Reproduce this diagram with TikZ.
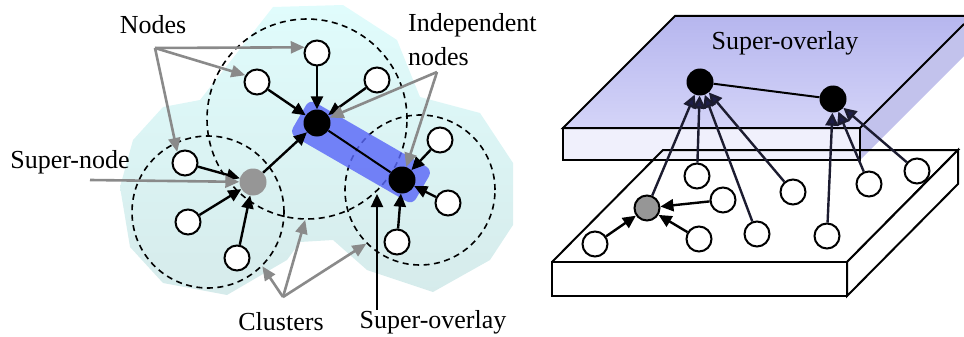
\documentclass[tikz,border=0pt]{standalone}
\usepackage{fontspec}
\setmainfont{Liberation Serif}
\usetikzlibrary{arrows.meta,positioning,calc,shapes.geometric}
\definecolor{CloudTop}{HTML}{E0FCFC}
\definecolor{CloudBot}{HTML}{D6EBEB}
\definecolor{BarBlue}{HTML}{5A68F8}
\definecolor{NoteGray}{HTML}{8A8A8A}
\definecolor{SuperGray}{HTML}{969696}
\definecolor{SlabTop}{HTML}{B6B6EE}
\definecolor{SlabTopLow}{HTML}{D4D4F8}
\definecolor{SlabFront}{HTML}{F0F0FC}
\definecolor{SlabSide}{HTML}{C2C2EC}
\definecolor{LinkNavy}{HTML}{1E1E48}
\definecolor{LinkDark}{HTML}{1C1C30}

\begin{document}
\begin{tikzpicture}[x=1pt, y=-1pt,
  peer/.style={circle, draw, line width=2pt, fill=white, minimum size=25pt, inner sep=0pt},
  super/.style={circle, fill=black, minimum size=27pt, inner sep=0pt},
  snode/.style={circle, fill=SuperGray, minimum size=27pt, inner sep=0pt},
  cluster/.style={circle, draw, line width=1.6pt, dash pattern=on 6pt off 4.5pt, inner sep=0pt},
  arr/.style={-{Triangle[length=13pt,width=12pt]}, line width=2.4pt},
  note/.style={-{Triangle[length=14pt,width=12pt]}, line width=2.6pt, color=NoteGray},
  uplink/.style={-{Triangle[length=13pt,width=13pt,fill=LinkNavy]}, line width=2.4pt, draw=LinkDark},
  lbl/.style={font=\fontsize{26}{28}\selectfont, inner sep=0pt}
]
\useasboundingbox (0,0) rectangle (964,337);

% cloud behind the clusters
\shade[top color=CloudTop, bottom color=CloudBot]
  (273,7) -- (343,5) -- (397,40) -- (420,97) -- (480,113) -- (513,163)
  -- (513,225) -- (490,260) -- (433,292) -- (367,270) -- (333,240)
  -- (300,242) -- (287,260) -- (227,295) -- (163,283) -- (130,247)
  -- (120,187) -- (133,140) -- (163,107) -- (200,100) -- cycle;

% clusters
\node[cluster, minimum size=200pt] (cT) at (307,119) {};
\node[cluster, minimum size=152pt] (cL) at (208,212) {};
\node[cluster, minimum size=150pt] (cR) at (420,190) {};

% super-overlay bar
\node[fill=BarBlue, fill opacity=0.82, rounded corners=7pt, minimum width=142pt,
      minimum height=40pt, rotate=-30, inner sep=0pt] (bar) at (361,152) {};

% left: nodes
\node[super] (sA) at (317,123) {};
\node[super] (sB) at (402,180) {};
\node[snode] (sn) at (253,182) {};
\node[peer] (p1) at (317,53) {};
\node[peer] (p2) at (257,82) {};
\node[peer] (p3) at (377,80) {};
\node[peer] (p4) at (185,163) {};
\node[peer] (p5) at (188,222) {};
\node[peer] (p6) at (237,258) {};
\node[peer] (p7) at (440,140) {};
\node[peer] (p8) at (448,203) {};
\node[peer] (p9) at (397,242) {};

\draw[arr] (p1) -- (sA);
\draw[arr] (p2) -- (sA);
\draw[arr] (p3) -- (sA);
\draw[arr] (sn) -- (sA);
\draw[arr] (p4) -- (sn);
\draw[arr] (p5) -- (sn);
\draw[arr] (p6) -- (sn);
\draw[arr] (p7) -- (sB);
\draw[arr] (p8) -- (sB);
\draw[arr] (p9) -- (sB);
\draw[line width=2pt] (sA) -- (sB);

% left: labels
\node[lbl] (nodeslbl) at (153,25) {Nodes};
\coordinate (nfork) at (155,48);
\draw[note] (nfork) -- (p1.155);
\draw[note] (nfork) -- (p2.150);
\draw[note] (nfork) -- (p4.125);

\node[lbl] (snlbl) at (70,162) {Super-node};
\coordinate (snfrom) at (90,180);
\draw[note] (snfrom) -- (sn);

\node[lbl, anchor=west, align=left, font=\fontsize{26}{34}\selectfont] (indlbl) at (408,40)
  {Independent\\nodes};
\coordinate (infork) at (437,72);
\draw[note] (infork) -- (sA);
\draw[note] (infork) -- (sB);

\node[lbl] (cllbl) at (281,322) {Clusters};
\coordinate (clfork) at (283,297);
\draw[note] (clfork) -- (cL.-45);
\draw[note] (clfork) -- (cT.-91);
\draw[note] (clfork) -- (cR.-135);

\node[lbl] (solbl) at (433,322) {Super-overlay};
\coordinate (sotip) at (377,194);
\draw[arr] (sotip |- solbl.north) -- (sotip);

% right: upper slab
\shade[top color=SlabTop, bottom color=SlabTopLow]
  (563,128) -- (675,16) -- (964,16) -- (964,24) -- (860,128) -- cycle;
\fill[SlabSide] (860,128) -- (964,24) -- (964,56) -- (860,160) -- cycle;
\draw[line width=2pt, fill=SlabFront] (563,128) rectangle (860,160);
\draw[line width=2pt] (860,128) -- (563,128) -- (675,16) -- (964,16);
\draw[line width=2pt] (860,128) -- (964,24);

% right: lower slab
\draw[line width=2pt] (552,262) -- (663,150) -- (958,150) -- (847,262);
\draw[line width=2pt, fill=white] (552,262) rectangle (847,296);
\draw[line width=2pt, fill=white] (847,262) -- (958,150) -- (958,184) -- (847,296) -- cycle;

\node[lbl] (ovtitle) at (785,43) {Super-overlay};

% right: nodes
\node[super] (rA) at (700,82) {};
\node[super] (rB) at (833,99) {};
\node[peer, fill=SuperGray] (rg) at (647,208) {};
\node[peer] (q1) at (697,176) {};
\node[peer] (q2) at (723,200) {};
\node[peer] (q3) at (595,244) {};
\node[peer] (q4) at (699,239) {};
\node[peer] (q5) at (757,234) {};
\node[peer] (q6) at (793,192) {};
\node[peer] (q7) at (827,236) {};
\node[peer] (q8) at (869,184) {};
\node[peer] (q9) at (917,171) {};

\draw[line width=2pt] (rA) -- (rB);
\draw[arr] (q2) -- (rg);
\draw[arr] (q4) -- (rg);
\draw[arr] (q3) -- (rg);
\draw[uplink] (rg) -- (rA);
\draw[uplink] (q1) -- (rA);
\draw[uplink] (q5) -- (rA);
\draw[uplink] (q6) -- (rA);
\draw[uplink] (q7) -- (rB);
\draw[uplink] (q8) -- (rB);
\draw[uplink] (q9) -- (rB);

\end{tikzpicture}
\end{document}
